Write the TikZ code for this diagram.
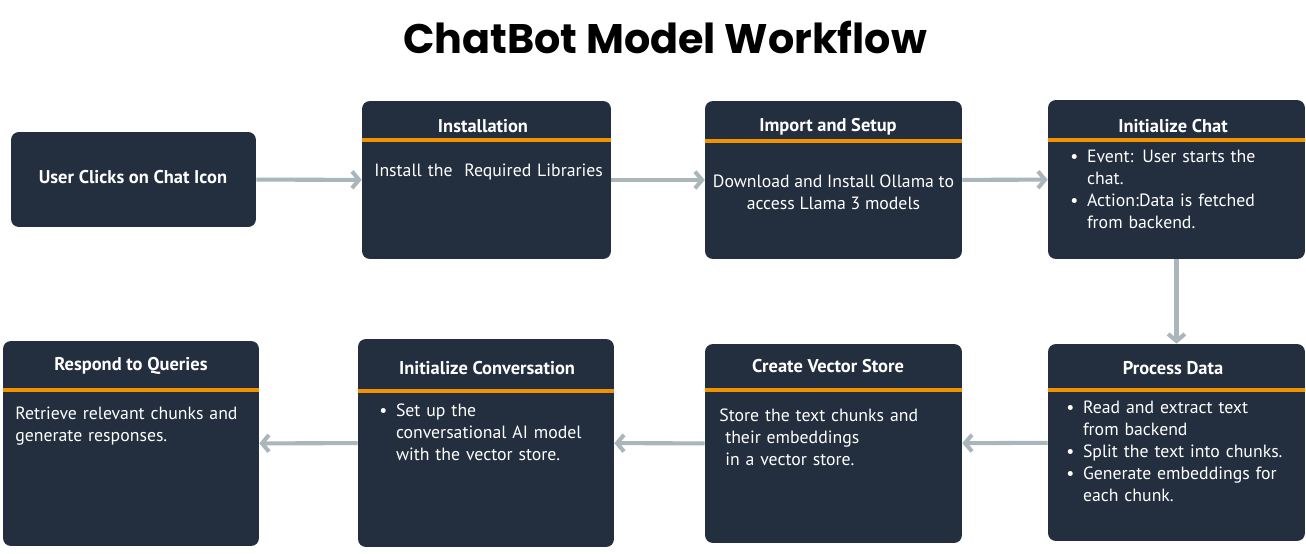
\documentclass[tikz,border=0pt]{standalone}
\usepackage{fontspec}
\setmainfont{PT Sans}
\newfontfamily\headfont{Poppins}
\usetikzlibrary{arrows.meta}

\definecolor{boxnavy}{RGB}{35,46,62}
\definecolor{rulegold}{RGB}{243,146,0}
\definecolor{flowgray}{RGB}{170,181,188}

% bullet line with hanging indent
\newcommand{\bul}[1]{\hangindent=9.5pt\hangafter=1\noindent\makebox[9.5pt][l]{\textbullet}#1\par}

\begin{document}
\begin{tikzpicture}[
        x=0.02cm, y=-0.02cm,
        stepbox/.style={draw=none, fill=boxnavy, rounded corners=4.5pt, inner sep=0pt},
        head/.style={text=white, font=\bfseries\fontsize{10.5}{12}\selectfont, inner sep=0pt},
        body/.style={text=white, font=\fontsize{10.1}{12.5}\selectfont, inner sep=0pt, text width=4.9cm, align=left},
        bodyc/.style={text=white, font=\fontsize{10.1}{12.5}\selectfont, inner sep=0pt, align=center},
        goldrule/.style={draw=rulegold, line width=2.2pt},
        flow/.style={draw=flowgray, line width=2.3pt, -{Straight Barb[length=4pt,width=9.5pt,line width=2.3pt]}}
    ]
    \fill[white] (0,0) rectangle (1306,554);
    \useasboundingbox (0,0) rectangle (1306,554);

    % Title
    \node[font=\headfont\bfseries\fontsize{23.5}{26}\selectfont, inner sep=0pt] (title) at (665,37) {ChatBot Model Workflow};

    % Boxes, top row
    \node[stepbox, minimum width=4.9cm, minimum height=1.9cm] (click) at (133.5,179.5) {};
    \node[stepbox, minimum width=4.98cm, minimum height=3.16cm] (install) at (486.5,180) {};
    \node[stepbox, minimum width=5.14cm, minimum height=3.16cm] (setup) at (833.5,180) {};
    \node[stepbox, minimum width=5.14cm, minimum height=3.18cm] (chat) at (1176.5,179.5) {};

    % Boxes, bottom row
    \node[stepbox, minimum width=5.14cm, minimum height=3.94cm] (process) at (1176.5,442.5) {};
    \node[stepbox, minimum width=5.14cm, minimum height=3.98cm] (vector) at (833.5,443.5) {};
    \node[stepbox, minimum width=5.12cm, minimum height=4.16cm] (convo) at (486,443) {};
    \node[stepbox, minimum width=5.12cm, minimum height=4.1cm] (respond) at (131,443.5) {};

    % Orange rules under the headings
    \draw[goldrule] (install.west |- 0,140) -- (install.east |- 0,140);
    \draw[goldrule] (setup.west |- 0,141) -- (setup.east |- 0,141);
    \draw[goldrule] (chat.west |- 0,140) -- (chat.east |- 0,140);
    \draw[goldrule] (process.west |- 0,390) -- (process.east |- 0,390);
    \draw[goldrule] (vector.west |- 0,390) -- (vector.east |- 0,390);
    \draw[goldrule] (convo.west |- 0,391) -- (convo.east |- 0,391);
    \draw[goldrule] (respond.west |- 0,390) -- (respond.east |- 0,390);

    % Headings
    \node[head] (clickhead) at (133,177) {User Clicks on Chat Icon};
    \node[head] (installhead) at (483,126) {Installation};
    \node[head] (setuphead) at (828,127) {Import and Setup};
    \node[head] (chathead) at (1173,126) {Initialize Chat};
    \node[head] (processhead) at (1173,368) {Process Data};
    \node[head] (vectorhead) at (828,366) {Create Vector Store};
    \node[head] (convohead) at (487,368) {Initialize Conversation};
    \node[head] (respondhead) at (131,366) {Respond to Queries};

    % Texts
    \node[body, anchor=north west] (installtxt) at (374,164) {Install the\ \ Required Libraries};
    \node[bodyc] (setuptxt) at (833.5,192) {Download and Install Ollama to\\access Llama 3 models};
    \node[body, anchor=north west] (chattxt) at (1070,150)
        {\bul{Event: User starts the\newline chat.}\bul{Action:Data is fetched\newline from backend.}};
    \node[body, anchor=north west] (processtxt) at (1066,401)
        {\bul{Read and extract text\newline from backend}\bul{Split the text into chunks.}\bul{Generate embeddings for\newline each chunk.}};
    \node[body, anchor=north west] (vectortxt) at (719,409)
        {Store the text chunks and\\\ their embeddings\\\ in a vector store.};
    \node[body, anchor=north west] (convotxt) at (379,404)
        {\bul{Set up the\newline conversational AI model\newline with the vector store.}};
    \node[body, anchor=north west] (respondtxt) at (15,407)
        {Retrieve relevant chunks and\\generate responses.};

    % Edges
    \draw[flow] (click) -- (install);
    \draw[flow] (install) -- (setup);
    \draw[flow] (setup) -- (chat);
    \draw[flow] (chat) -- (process);
    \draw[flow] (process) -- (vector);
    \draw[flow] (vector) -- (convo);
    \draw[flow] (convo) -- (respond);
\end{tikzpicture}
\end{document}
